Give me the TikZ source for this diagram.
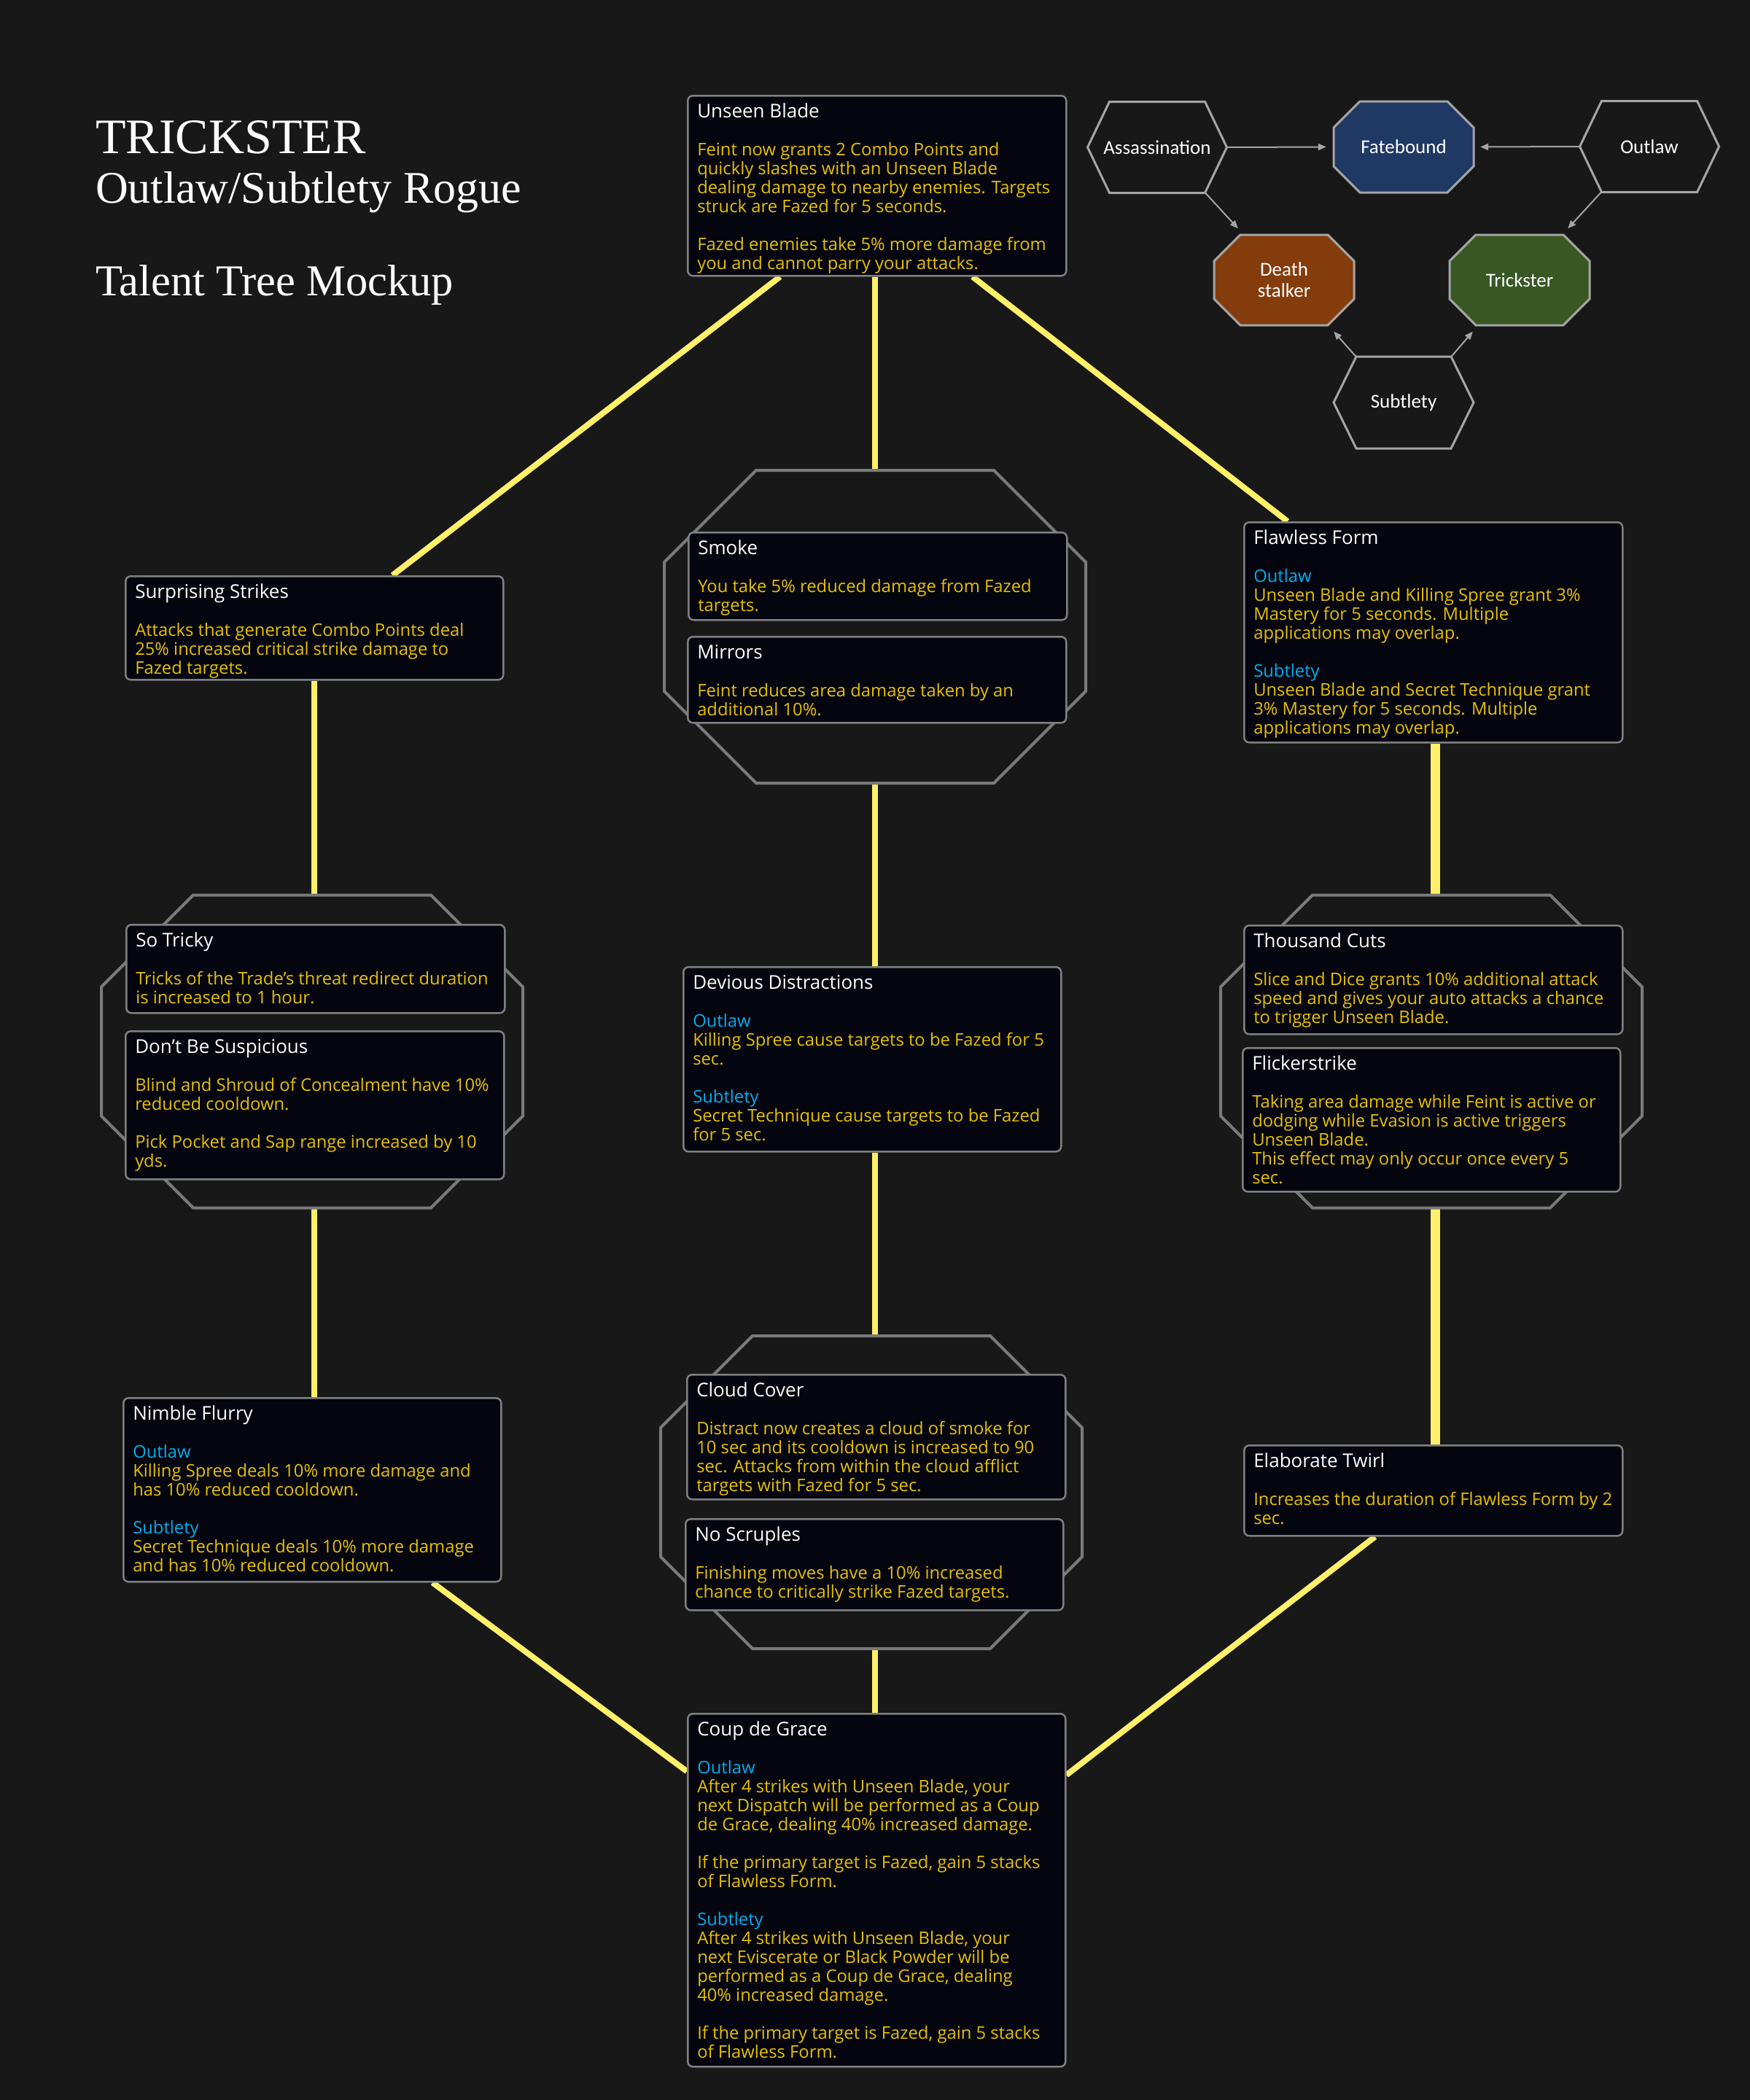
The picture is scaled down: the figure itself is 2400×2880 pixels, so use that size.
\documentclass[tikz,border=0pt]{standalone}
\usepackage{fontspec}
\setmainfont{Open Sans}
\newfontfamily\legendfont{Carlito}
\newfontfamily\headfont{Liberation Serif}
\usepackage{xcolor}
\usepackage{tikz}
\usetikzlibrary{arrows.meta}

\definecolor{bgc}{HTML}{181818}
\definecolor{boxfill}{HTML}{05050F}
\definecolor{boxline}{HTML}{808080}
\definecolor{gold}{HTML}{E5C100}
\definecolor{specblue}{HTML}{00AEEF}
\definecolor{linkc}{HTML}{FFF069}
\definecolor{grpgray}{HTML}{7A7A7A}
\definecolor{cellgray}{HTML}{A5A5A5}
\definecolor{fatec}{HTML}{203864}
\definecolor{dstkc}{HTML}{843C0C}
\definecolor{trikc}{HTML}{385723}

\pgfdeclarelayer{under}
\pgfsetlayers{under,main}

% talent card text
\newcommand{\card}[3]{\parbox[t][#2pt][t]{#1pt}{\rightskip=-40pt plus 1fil\relax #3}}
\newcommand{\ttl}[1]{\rule{0pt}{30pt}{\color{white}\fontsize{26}{26}\selectfont #1}\\[26pt]}
\newcommand{\spec}[1]{{\color{specblue}#1}\\}
\newcommand{\gapline}{\\[26pt]}
% outlines: style, cx, cy, half width, half height, cut
\newcommand{\octo}[6]{\draw[#1] (#2,#3) ++(-#4+#6,-#5) -- ++(2*#4-2*#6,0) -- ++(#6,#6) -- ++(0,2*#5-2*#6) -- ++(-#6,#6) -- ++(-2*#4+2*#6,0) -- ++(-#6,-#6) -- ++(0,-2*#5+2*#6) -- cycle;}
\newcommand{\hexo}[6]{\draw[#1] (#2,#3) ++(-#4,0) -- ++(#6,-#5) -- ++(2*#4-2*#6,0) -- ++(#6,#5) -- ++(-#6,#5) -- ++(-2*#4+2*#6,0) -- cycle;}
\newcommand{\octgroup}[3]{\octo{grpline}{#2}{#3}{289}{214.5}{126}\node[grp] (#1) at (#2,#3) {};}

\begin{document}
\begin{tikzpicture}[x=1pt,y=-1pt,
talent/.style={draw=boxline,line width=2.5,fill=boxfill,rounded corners=7,anchor=north west,inner xsep=13,inner ysep=0,text=gold,font=\fontsize{23.8}{26}\selectfont},
grp/.style={minimum width=578,minimum height=429,inner sep=0},
grpline/.style={draw=grpgray,line width=4},
link/.style={draw=linkc,line width=8},
boldlink/.style={draw=linkc,line width=13},
cell/.style={minimum width=192,minimum height=125,inner sep=0,align=center,text=white,font=\legendfont\fontsize{27}{29}\selectfont},
cellline/.style={draw=cellgray,line width=3},
legarrow/.style={draw=cellgray,line width=2,-{Triangle[length=11pt,width=9pt]}},
heading/.style={anchor=base west,inner sep=0,text=white}]
\useasboundingbox (0,0) rectangle (2400,2880);
\begin{pgfonlayer}{under}
\fill[bgc] (0,0) rectangle (2400,2880);
\end{pgfonlayer}

% title
\node[heading,font=\headfont\fontsize{68}{70}\selectfont] (name) at (131,210) {TRICKSTER};
\node[heading,font=\headfont\fontsize{62}{64}\selectfont] (spec) at (131,278) {Outlaw/Subtlety Rogue};
\node[heading,font=\headfont\fontsize{60.5}{64}\selectfont] (mock) at (131,405) {Talent Tree Mockup};

% choice groups
\octgroup{octA}{1200}{859.5}
\octgroup{octL}{428}{1442}
\octgroup{octR}{1963}{1442}
\octgroup{octB}{1195}{2046.5}

% talents
\node[talent] (ub) at (942,130) {\card{493}{247}{\ttl{Unseen Blade}Feint now grants 2 Combo Points and\\quickly slashes with an Unseen Blade\\dealing damage to nearby enemies. Targets\\struck are Fazed for 5 seconds.\gapline Fazed enemies take 5\% more damage from\\you and cannot parry your attacks.}};
\node[talent] (ss) at (171,789) {\card{492}{142}{\ttl{Surprising Strikes}Attacks that generate Combo Points deal\\25\% increased critical strike damage to\\Fazed targets.}};
\node[talent] (smk) at (943,729) {\card{493}{120}{\ttl{Smoke}You take 5\% reduced damage from Fazed\\targets.}};
\node[talent] (mir) at (942,872) {\card{493}{118}{\ttl{Mirrors}Feint reduces area damage taken by an\\additional 10\%.}};
\node[talent] (ff) at (1705,715) {\card{493}{302}{\ttl{Flawless Form}\spec{Outlaw}Unseen Blade and Killing Spree grant 3\%\\Mastery for 5 seconds. Multiple\\applications may overlap.\gapline\spec{Subtlety}Unseen Blade and Secret Technique grant\\3\% Mastery for 5 seconds. Multiple\\applications may overlap.}};
\node[talent] (st) at (172,1267) {\card{493}{121}{\ttl{So Tricky}Tricks of the Trade’s threat redirect duration\\is increased to 1 hour.}};
\node[talent] (dbs) at (171,1413) {\card{493}{203}{\ttl{Don’t Be Suspicious}Blind and Shroud of Concealment have 10\%\\reduced cooldown.\gapline Pick Pocket and Sap range increased by 10\\yds.}};
\node[talent] (tc) at (1705,1268) {\card{493}{149}{\ttl{Thousand Cuts}Slice and Dice grants 10\% additional attack\\speed and gives your auto attacks a chance\\to trigger Unseen Blade.}};
\node[talent] (fs) at (1703,1436) {\card{492}{197}{\ttl{Flickerstrike}Taking area damage while Feint is active or\\dodging while Evasion is active triggers\\Unseen Blade.\\This effect may only occur once every 5\\sec.}};
\node[talent] (dd) at (936,1325) {\card{492}{253}{\ttl{Devious Distractions}\spec{Outlaw}Killing Spree cause targets to be Fazed for 5\\sec.\gapline\spec{Subtlety}Secret Technique cause targets to be Fazed\\for 5 sec.}};
\node[talent] (nf) at (168,1916) {\card{492}{252}{\ttl{Nimble Flurry}\spec{Outlaw}Killing Spree deals 10\% more damage and\\has 10\% reduced cooldown.\gapline\spec{Subtlety}Secret Technique deals 10\% more damage\\and has 10\% reduced cooldown.}};
\node[talent] (cc) at (941,1884) {\card{493}{171}{\ttl{Cloud Cover}Distract now creates a cloud of smoke for\\10 sec and its cooldown is increased to 90\\sec. Attacks from within the cloud afflict\\targets with Fazed for 5 sec.}};
\node[talent] (ns) at (939,2082) {\card{492}{125}{\ttl{No Scruples}Finishing moves have a 10\% increased\\chance to critically strike Fazed targets.}};
\node[talent] (et) at (1705,1981) {\card{493}{124}{\ttl{Elaborate Twirl}Increases the duration of Flawless Form by 2\\sec.}};
\node[talent] (cdg) at (942,2349) {\card{492}{484}{\ttl{Coup de Grace}\spec{Outlaw}After 4 strikes with Unseen Blade, your\\next Dispatch will be performed as a Coup\\de Grace, dealing 40\% increased damage.\gapline If the primary target is Fazed, gain 5 stacks\\of Flawless Form.\gapline\spec{Subtlety}After 4 strikes with Unseen Blade, your\\next Eviscerate or Black Powder will be\\performed as a Coup de Grace, dealing\\40\% increased damage.\gapline If the primary target is Fazed, gain 5 stacks\\of Flawless Form.}};

% tree links
\begin{pgfonlayer}{under}
\draw[link] ([xshift=-133]ub.south) -- ([xshift=107]ss.north);
\draw[link] (octA.north |- ub.south) -- (octA.north);
\draw[link] ([xshift=131]ub.south) -- ([xshift=-200]ff.north);
\draw[link] (ss.south) -- (ss.south |- octL.north);
\draw[link] (ss.south |- octL.south) -- (ss.south |- nf.north);
\draw[link] ([xshift=165]nf.south) -- ([yshift=163]cdg.west);
\draw[link] (octA.south) -- (octA.south |- dd.north);
\draw[link] (octA.south |- dd.south) -- (octA.south |- octB.north);
\draw[link] (octA.south |- octB.south) -- (octA.south |- cdg.north);
\draw[boldlink] ([xshift=3]ff.south) -- ([xshift=3]ff.south |- octR.north);
\draw[boldlink] ([xshift=3]ff.south |- octR.south) -- ([xshift=3]ff.south |- et.north);
\draw[link] ([xshift=-80]et.south) -- ([yshift=158]cdg.east);
\end{pgfonlayer}

% spec legend
\hexo{cellline}{1587}{202}{95.5}{62.5}{30}
\octo{cellline,fill=fatec}{1925}{201.5}{96}{62.5}{36}
\hexo{cellline}{2262}{201}{95.5}{62.5}{30}
\octo{cellline,fill=dstkc}{1761}{384}{96}{62}{36}
\octo{cellline,fill=trikc}{2084}{384}{96}{62}{36}
\hexo{cellline}{1925}{552}{96}{63}{31}
\node[cell] (assn) at (1587,202) {Assassination};
\node[cell] (fate) at (1925,201.5) {Fatebound};
\node[cell] (outl) at (2262,201) {Outlaw};
\node[cell] (dstk) at (1761,384) {Death\\stalker};
\node[cell] (trik) at (2084,384) {Trickster};
\node[cell] (subt) at (1925,552) {Subtlety};
\draw[legarrow] (assn.east) -- ([xshift=-10]fate.west);
\draw[legarrow] (outl.west) -- ([xshift=9]fate.east);
\draw[legarrow] ([xshift=-30]assn.south east) -- ([xshift=33,yshift=8]dstk.north west);
\draw[legarrow] ([xshift=30]outl.south west) -- ([xshift=-30,yshift=8]trik.north east);
\draw[legarrow] ([xshift=31]subt.north west) -- ([xshift=-28,yshift=-8]dstk.south east);
\draw[legarrow] ([xshift=-31]subt.north east) -- ([xshift=32,yshift=-8]trik.south west);
\end{tikzpicture}
\end{document}
